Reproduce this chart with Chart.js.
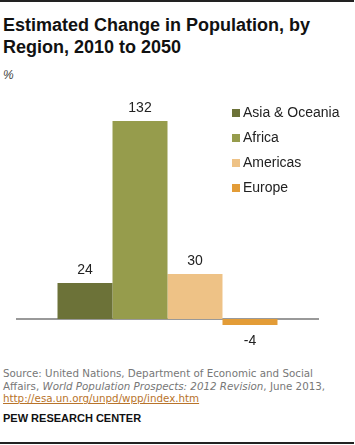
<!DOCTYPE html>
<html>
<head>
<meta charset="utf-8">
<script src="https://cdn.jsdelivr.net/npm/chart.js@4"></script>
<style>
  html, body { margin: 0; padding: 0; background: #fff; }
  body { width: 355px; height: 445px; position: relative; overflow: hidden; font-family: "Liberation Sans", Arial, sans-serif; }
  .rule { position: absolute; left: 0; width: 354px; height: 2px; background: #222; }
  #title { position: absolute; left: 3px; top: 14px; font-size: 18px; line-height: 22px; font-weight: bold; color: #111; white-space: nowrap; }
  #unit { position: absolute; left: 3px; top: 68px; font-size: 12px; font-style: italic; color: #444; }
  #wrap { position: absolute; left: 16px; top: 94px; width: 303px; height: 255px; }
  #legend { position: absolute; left: 232px; top: 103px; font-size: 14px; color: #222; }
  #legend div { height: 25px; line-height: 19px; white-space: nowrap; }
  #legend span.sw { display: inline-block; width: 8px; height: 8px; margin-right: 3px; vertical-align: 0px; }
  #source { position: absolute; left: 3px; top: 367px; font-family: "DejaVu Sans", Verdana, sans-serif; font-size: 10.3px; line-height: 12.5px; color: #777; white-space: nowrap; }
  #source a { color: #b8732a; text-decoration: underline; }
  #pew { position: absolute; left: 3px; top: 412px; font-size: 11px; font-weight: bold; color: #111; }
</style>
</head>
<body>
<div class="rule" style="top:0px"></div>
<div id="title">Estimated Change in Population, by<br>Region, 2010 to 2050</div>
<div id="unit">%</div>
<div id="wrap"><canvas id="c" width="303" height="255"></canvas></div>
<div id="legend"></div>
<div id="source">Source: United Nations, Department of Economic and Social<br>Affairs, <i>World Population Prospects: 2012 Revision</i>, June 2013,<br><a>http://esa.un.org/unpd/wpp/index.htm</a></div>
<div id="pew">PEW RESEARCH CENTER</div>
<div class="rule" style="top:442px"></div>
<script>
const categories = ["2010 to 2050"];
const regions = ["Asia & Oceania", "Africa", "Americas", "Europe"];
const values = [24, 132, 30, -4];
const colors = ["#6c7238", "#969c4c", "#eec286", "#e39c37"];

const legendEl = document.getElementById('legend');
regions.forEach((r, i) => {
  const d = document.createElement('div');
  const s = document.createElement('span');
  s.className = 'sw';
  s.style.background = colors[i];
  d.appendChild(s);
  d.appendChild(document.createTextNode(r));
  legendEl.appendChild(d);
});

const zeroLine = {
  id: 'zeroLine',
  beforeDatasetsDraw(chart) {
    const ctx = chart.ctx, y = chart.scales.y.getPixelForValue(0), a = chart.chartArea;
    ctx.save();
    ctx.strokeStyle = '#999';
    ctx.lineWidth = 2;
    ctx.beginPath();
    ctx.moveTo(a.left, y);
    ctx.lineTo(a.right, y);
    ctx.stroke();
    ctx.restore();
  }
};
const valueLabels = {
  id: 'valueLabels',
  afterDatasetsDraw(chart) {
    const ctx = chart.ctx;
    ctx.save();
    ctx.font = '14px "Liberation Sans", Arial, sans-serif';
    ctx.fillStyle = '#222';
    ctx.textAlign = 'center';
    chart.data.datasets.forEach((ds, i) => {
      chart.getDatasetMeta(i).data.forEach((bar, j) => {
        const v = ds.data[j];
        if (v >= 0) {
          ctx.textBaseline = 'bottom';
          ctx.fillText(String(v), bar.x, bar.y - 6);
        } else {
          ctx.textBaseline = 'top';
          ctx.fillText(String(v), bar.x, bar.y + 9);
        }
      });
    });
    ctx.restore();
  }
};

new Chart(document.getElementById('c'), {
  type: 'bar',
  data: {
    labels: categories,
    datasets: regions.map((r, i) => ({
      label: r,
      data: [values[i]],
      backgroundColor: colors[i],
      borderWidth: 0
    }))
  },
  options: {
    responsive: false,
    animation: false,
    devicePixelRatio: 1,
    layout: { padding: 0 },
    datasets: { bar: { barPercentage: 1, categoryPercentage: 0.726 } },
    scales: {
      x: { display: false },
      y: { display: false, min: -20, max: 150 }
    },
    plugins: { legend: { display: false }, tooltip: { enabled: false } }
  },
  plugins: [zeroLine, valueLabels]
});
</script>
</body>
</html>
